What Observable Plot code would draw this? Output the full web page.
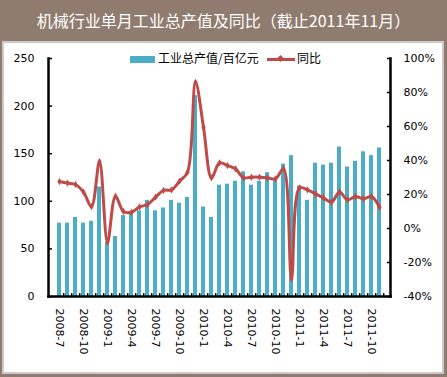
<!DOCTYPE html>
<html><head><meta charset="utf-8">
<script src="https://cdn.jsdelivr.net/npm/d3@7"></script>
<script src="https://cdn.jsdelivr.net/npm/@observablehq/plot@0.6"></script>
<style>
body{margin:0;width:447px;height:377px;background:#8f7c6f;position:relative;overflow:hidden;font-family:"DejaVu Sans",sans-serif}
#title{position:absolute;left:0;top:0;width:447px;height:41px;line-height:40px;text-align:center;color:#fff;font-family:"Noto Sans CJK SC",sans-serif;font-size:16px}
#panel{position:absolute;left:2px;top:41px;width:442px;height:333px;box-sizing:border-box;border:2px solid #cacaca;background:#fff}
#chart{position:absolute;left:0;top:41px}
.lg{position:absolute;font-family:"Noto Sans CJK SC",sans-serif;font-size:12px;line-height:16px;color:#000;white-space:nowrap}
</style></head>
<body>
<div id="title">机械行业单月工业总产值及同比（截止2011年11月）</div>
<div id="panel"></div>
<div id="chart"></div>
<div class="lg" style="left:130px;top:56px;width:25px;height:7px;background:#4bacc6"></div>
<div class="lg" style="left:158px;top:50px">工业总产值/百亿元</div>
<div class="lg" style="left:267px;top:58px;width:28px;height:3px;background:#be4b48"></div>
<div class="lg" style="left:278px;top:56px;width:5px;height:5px;background:#be4b48;transform:rotate(45deg)"></div>
<div class="lg" style="left:297px;top:50px">同比</div>
<script>
const months = [
 "2008-7","2008-8","2008-9","2008-10","2008-11","2008-12",
 "2009-1","2009-2","2009-3","2009-4","2009-5","2009-6","2009-7","2009-8","2009-9","2009-10","2009-11","2009-12",
 "2010-1","2010-2","2010-3","2010-4","2010-5","2010-6","2010-7","2010-8","2010-9","2010-10","2010-11","2010-12",
 "2011-1","2011-2","2011-3","2011-4","2011-5","2011-6","2011-7","2011-8","2011-9","2011-10","2011-11"];
const output = [77,77,83,77,79,115,57,63,85,87,90,101,90,93,101,98,104,211,94,83,117,118,121,131,117,121,130,122,139,148,116,101,140,138,140,157,136,142,152,148,156];
const yoy = [27.6,26.7,25.9,21.4,12.9,39.4,-8,19,10,9.6,12.7,14.1,18.4,22.4,22.7,27.8,33.1,86,59.6,29.8,38.6,37,35.1,29.8,30.2,30.2,29.8,29.2,35.1,-29.6,23.9,22.7,20.4,18,15.5,21.4,16.9,18.8,17.5,18.8,12.5];
const leftTicks = [0,50,100,150,200,250];
const rightTicks = [-40,-20,0,20,40,60,80,100];
const xLabels = months.filter((d,i)=>i%3===0);

const toLeft = p => (p + 40) * 250 / 140;
const data = months.map((m,i)=>({month:m, output:output[i], yoy:yoy[i]}));
const step = 342/40.75;

const chart = Plot.plot({
  width: 447, height: 333,
  marginLeft: 48, marginRight: 57, marginTop: 17, marginBottom: 78,
  style: {fontFamily: "DejaVu Sans", fontSize: "11px", background: "transparent", color: "#000"},
  x: {domain: months, paddingInner: 0.55, paddingOuter: 0.15, label: null},
  y: {domain: [0, 250], label: null},
  marks: [
    Plot.barY(data, {x: "month", y: "output", fill: "#4bacc6"}),
    Plot.line(data, {x: "month", y: d => toLeft(d.yoy), stroke: "#be4b48", strokeWidth: 3, curve: "catmull-rom"}),
    Plot.dot(data, {x: "month", y: d => toLeft(d.yoy), symbol: "diamond", r: 2.2, fill: "#be4b48"}),
    Plot.axisY(leftTicks, {anchor: "left", tickSize: 0, tickPadding: 14, fontSize: 11}),
    Plot.axisY(leftTicks, {anchor: "left", tickSize: 4, dx: 4, strokeWidth: 1.5, tickFormat: () => ""}),
    Plot.axisY(rightTicks.map(toLeft), {anchor: "right", tickSize: 0, tickPadding: 13, fontSize: 11, tickFormat: v => Math.round(v*140/250 - 40) + "%"}),
    Plot.axisY(rightTicks.map(toLeft), {anchor: "right", tickSize: 4, dx: -4, strokeWidth: 1.5, tickFormat: () => ""}),
    Plot.axisX(xLabels, {anchor: "bottom", tickSize: 0, tickPadding: 12, tickRotate: 90, fontSize: 11}),
    Plot.axisX(months, {anchor: "bottom", tickSize: 3, dy: -3, dx: step/2, strokeWidth: 1.5, tickFormat: () => ""}),
    Plot.frame({anchor: "left", strokeWidth: 2.5, stroke: "#000"}),
    Plot.frame({anchor: "right", strokeWidth: 2.5, stroke: "#000"}),
    Plot.frame({anchor: "bottom", strokeWidth: 2.5, stroke: "#000"})
  ]
});
document.getElementById("chart").appendChild(chart);
</script>
</body></html>
